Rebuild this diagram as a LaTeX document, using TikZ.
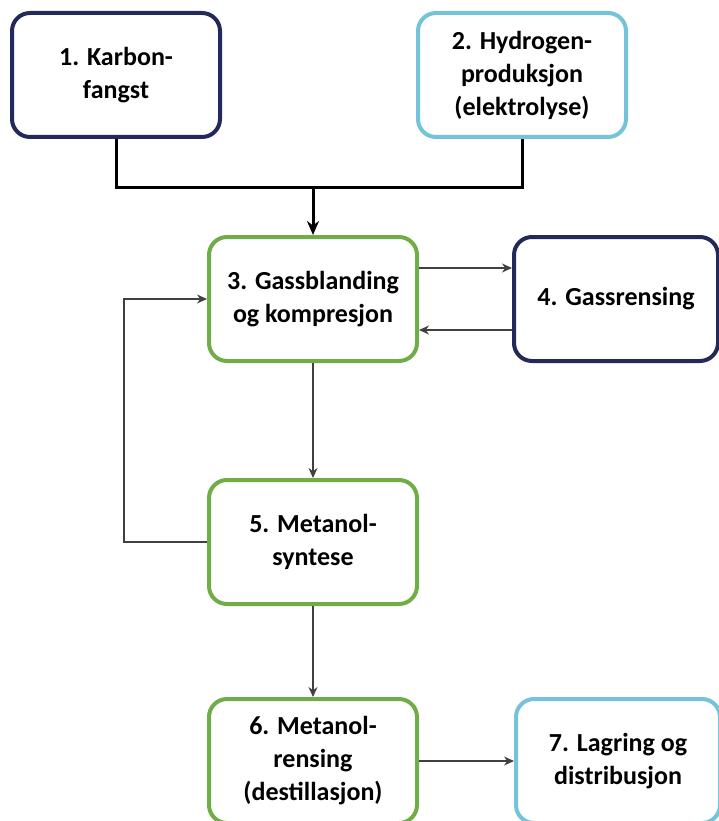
\documentclass[tikz,border=0pt]{standalone}
\usepackage{fontspec}
\setmainfont{Carlito}
\usetikzlibrary{arrows.meta,positioning}
\definecolor{navy}{HTML}{232A5A}
\definecolor{skyblue}{HTML}{74C3D8}
\definecolor{leafgreen}{HTML}{70AD47}

\begin{document}
\begin{tikzpicture}[x=1pt,y=-1pt,>={Stealth[length=10pt,width=9pt]},
  stage/.style={draw,rectangle,rounded corners=18pt,line width=4pt,
    minimum width=208pt,minimum height=124pt,align=center,fill=white,
    font=\bfseries\fontsize{26}{33}\selectfont},
  flow/.style={->,line width=1.2pt,black!75}]
  \useasboundingbox (0,0) rectangle (719,821);
  \node[stage,draw=navy] (carbon) at (116,75) {1. Karbon-\\fangst};
  \node[stage,draw=skyblue,right=194pt of carbon] (hydrogen)
    {2. Hydrogen-\\produksjon\\(elektrolyse)};
  \node[stage,draw=leafgreen] (mix) at (313,299) {3. Gassblanding\\og kompresjon};
  \node[stage,draw=navy,minimum width=204pt,right=93pt of mix] (clean) {4. Gassrensing};
  \node[stage,draw=leafgreen,below=115pt of mix] (synth) {5. Metanol-\\syntese};
  \node[stage,draw=leafgreen,below=91pt of synth] (refine)
    {6. Metanol-\\rensing\\(destillasjon)};
  \node[stage,draw=skyblue,minimum width=204pt,right=95pt of refine] (store)
    {7. Lagring og\\distribusjon};
  \coordinate (join) at (313,187);
  \draw[line width=3pt] (carbon.south) |- (join) -| (hydrogen.south);
  \draw[-{Stealth[length=14pt,width=12pt]},line width=3pt] (join) -- (mix.north);
  \draw[flow] ([yshift=31pt]mix.east) -- ([yshift=31pt]clean.west);
  \draw[flow] ([yshift=-31pt]clean.west) -- ([yshift=-31pt]mix.east);
  \draw[flow] (mix.south) -- (synth.north);
  \draw[flow] (synth.west) -- ++(-83,0) |- (mix.west);
  \draw[flow] (synth.south) -- (refine.north);
  \draw[flow] (refine.east) -- (store.west);
\end{tikzpicture}
\end{document}
